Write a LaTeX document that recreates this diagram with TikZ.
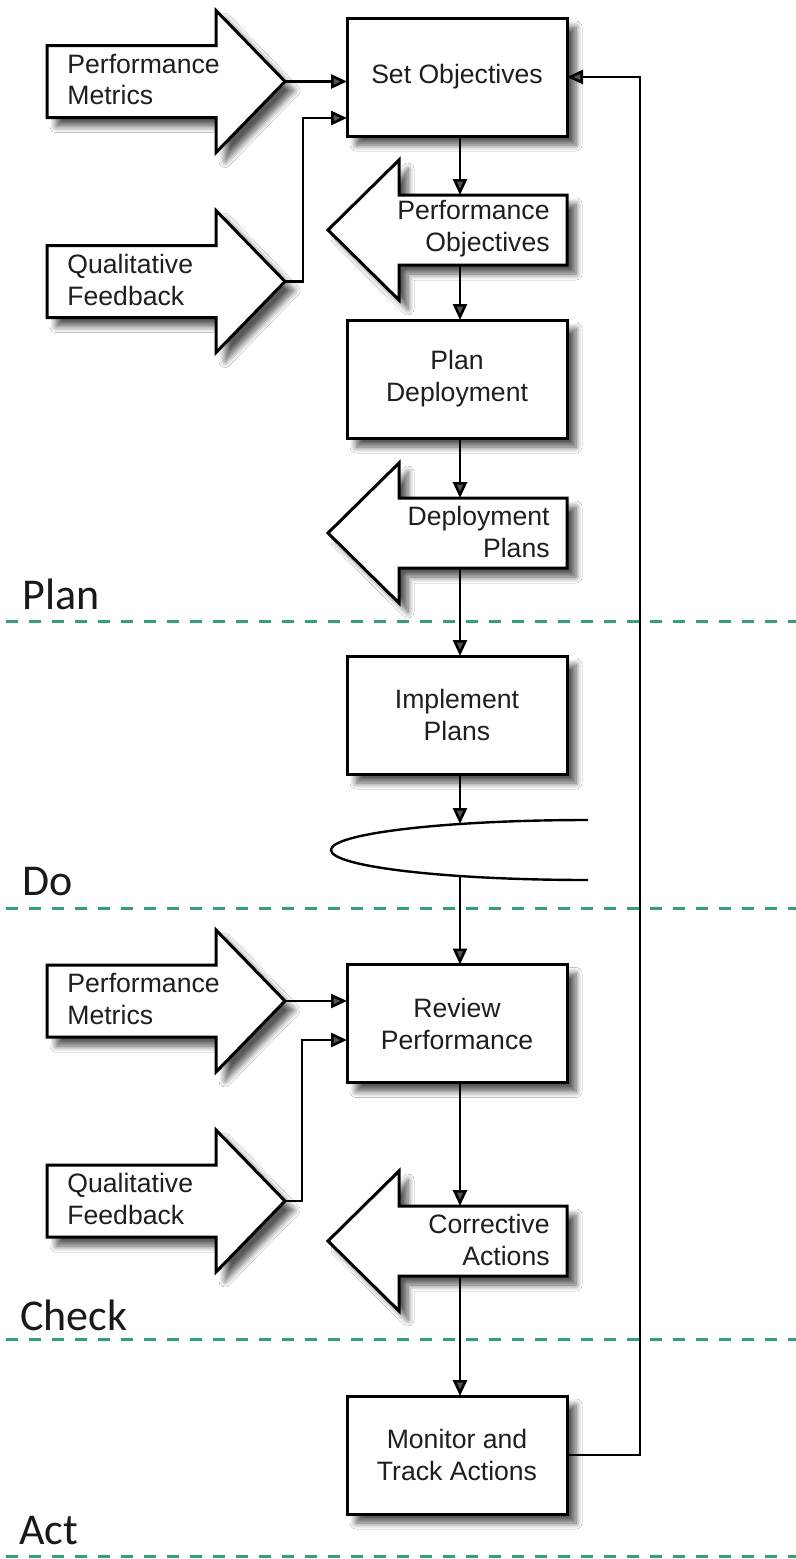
\documentclass[tikz,border=0pt]{standalone}
\usepackage{fontspec}
\setmainfont{Liberation Sans}
\newfontfamily\phasefont{Carlito}
\usetikzlibrary{arrows.meta,shadows.blur,calc}
\definecolor{phasegreen}{RGB}{52,160,116}
\definecolor{txt}{RGB}{30,30,30}
\tikzset{
  shadowed/.style={blur shadow={shadow xshift=4.5pt, shadow yshift=-4.5pt, shadow blur radius=3pt, shadow blur steps=8, shadow opacity=65}},
  procbox/.style={draw, line width=1.5pt, fill=white, minimum width=110pt, minimum height=59pt,
    inner sep=0pt, outer sep=0pt, align=center, text=txt, font=\fontsize{13.3}{16}\selectfont, shadowed},
  blockarrow/.style={draw, line width=1.5pt, fill=white, line join=miter, shadowed},
  arrowtext/.style={text=txt, font=\fontsize{13.3}{16}\selectfont, inner sep=0pt},
  conn/.style={line width=1.3pt, -{Triangle[length=8pt,width=7pt]}},
  phaseline/.style={line width=1.5pt, phasegreen, dash pattern=on 6pt off 5.5pt},
  phaselabel/.style={anchor=base west, inner sep=0pt, text=black!90, font=\phasefont\fontsize{22}{26}\selectfont}
}
\newcommand{\inarrow}[4]{%
  \draw[blockarrow] (47,#2-36) -- (216,#2-36) -- (216,#2-71) -- (285,#2) -- (216,#2+71) -- (216,#2+36) -- (47,#2+36) -- cycle;
  \node[arrowtext, anchor=west, align=left] (#1) at (67,#2-2) {#3\\#4};
  \coordinate (#1tip) at (285,#2);
}
\newcommand{\outarrow}[4]{%
  \draw[blockarrow] (567,#2-35) -- (399,#2-35) -- (399,#2-70) -- (328,#2) -- (399,#2+70) -- (399,#2+35) -- (567,#2+35) -- cycle;
  \node[arrowtext, anchor=east, align=right] (#1) at (550,#2-1) {#3\\#4};
  \coordinate (#1top) at (460,#2-35);
  \coordinate (#1bot) at (460,#2+35);
}
\begin{document}
\begin{tikzpicture}[x=0.5pt, y=-0.5pt]
\useasboundingbox (0,0) rectangle (796,1559);
\fill[white] (0,0) rectangle (796,1559);

% phase separators
\draw[phaseline] (6,621) -- (796,621);
\draw[phaseline] (6,908) -- (796,908);
\draw[phaseline] (6,1339) -- (796,1339);
\draw[phaseline] (6,1556) -- (796,1556);
\node[phaselabel] (lplan) at (22,609) {Plan};
\node[phaselabel] (ldo) at (22,895) {Do};
\node[phaselabel] (lcheck) at (20,1330) {Check};
\node[phaselabel] (lact) at (19,1544) {Act};

\coordinate (ax) at (460,0);
\coordinate (fb) at (640,0);

% process boxes
\node[procbox] (setobj) at (457,77) {Set Objectives};
\node[procbox] (plandep) at (457,379) {Plan\\Deployment};
\node[procbox] (impl) at (457,715) {Implement\\Plans};
\node[procbox] (review) at (457,1023.5) {Review\\Performance};
\node[procbox] (monitor) at (457,1455) {Monitor and\\Track Actions};

% block arrows
\inarrow{pma}{81.5}{Performance}{Metrics}
\inarrow{qfa}{281.5}{Qualitative}{Feedback}
\inarrow{pmb}{1001}{Performance}{Metrics}
\inarrow{qfb}{1201}{Qualitative}{Feedback}
\outarrow{po}{230}{Performance}{Objectives}
\outarrow{dp}{533}{Deployment}{Plans}
\outarrow{ca}{1241}{Corrective}{Actions}

% open ellipse
\coordinate (ellend) at (588,820);
\draw[line width=1.2pt] (ellend) arc[start angle=90, end angle=270, x radius=128.5pt, y radius=15pt];
\coordinate (elltop) at (460,824);
\coordinate (ellbot) at (460,876);

% connectors
\draw[conn] (pmatip) -- (setobj.west |- pmatip);
\draw[conn] (qfatip) -- ++(18,0) |- (setobj.west |- 0,118);
\draw[conn] (setobj.south -| ax) -- (potop);
\draw[conn] (pobot) -- (plandep.north -| ax);
\draw[conn] (plandep.south -| ax) -- (dptop);
\draw[conn] (dpbot) -- (impl.north -| ax);
\draw[conn] (impl.south -| ax) -- (elltop);
\draw[conn] (ellbot) -- (review.north -| ax);
\draw[conn] (pmbtip) -- (review.west |- pmbtip);
\draw[conn] (qfbtip) -- ++(17,0) |- (review.west |- 0,1040);
\draw[conn] (review.south -| ax) -- (catop);
\draw[conn] (cabot) -- (monitor.north -| ax);
\draw[conn] (monitor.east) -- (monitor.east -| fb) |- (setobj.east);
\end{tikzpicture}
\end{document}
